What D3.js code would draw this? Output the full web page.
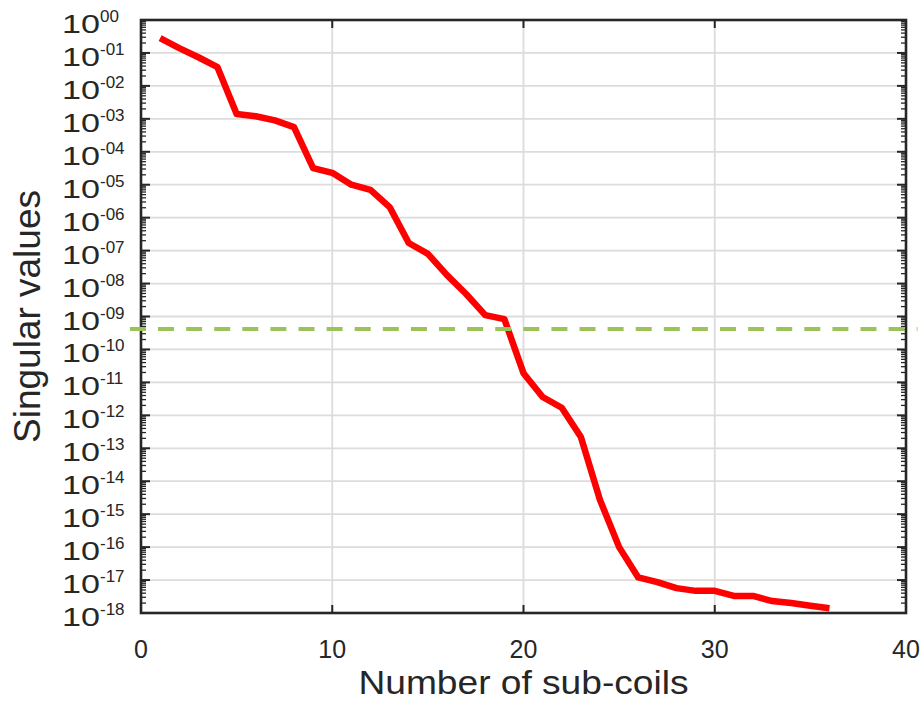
<!DOCTYPE html>
<html>
<head>
<meta charset="utf-8">
<script src="https://cdn.jsdelivr.net/npm/d3@7"></script>
<style>
  html, body { margin: 0; padding: 0; background: #fff; }
  svg { display: block; font-family: "Liberation Sans", Arial, sans-serif; }
</style>
</head>
<body>
<svg id="chart" width="922" height="706"></svg>
<script>
// Singular values of the coil decomposition, one per sub-coil count
const subCoils = [1, 2, 3, 4, 5, 6, 7, 8, 9, 10, 11, 12, 13, 14, 15, 16, 17, 18,
                  19, 20, 21, 22, 23, 24, 25, 26, 27, 28, 29, 30, 31, 32, 33, 34, 35, 36];
const singularValues = [
  2.8e-1, 1.4e-1, 7.4e-2, 3.7e-2, 1.4e-3, 1.2e-3, 9.0e-4, 5.6e-4, 3.2e-5, 2.3e-5,
  1.0e-5, 7.0e-6, 2.1e-6, 1.7e-7, 8.0e-8, 1.8e-8, 4.8e-9, 1.1e-9, 8.3e-10, 1.9e-11,
  3.6e-12, 1.7e-12, 2.2e-13, 2.7e-15, 1.0e-16, 1.2e-17, 8.7e-18, 5.7e-18, 4.7e-18, 4.7e-18,
  3.3e-18, 3.3e-18, 2.3e-18, 2.0e-18, 1.65e-18, 1.4e-18
];

// Truncation threshold (horizontal dashed line) and its x extent
const thresholdValue = 4.2e-10;
const thresholdSpan = [-0.58, 40.6];

// Axis ticks
const xTicks = [0, 10, 20, 30, 40];
const yExponents = [0, -1, -2, -3, -4, -5, -6, -7, -8, -9, -10, -11, -12, -13, -14, -15, -16, -17, -18];

const xLabel = "Number of sub-coils";
const yLabel = "Singular values";

(function draw() {
  const svg = d3.select("#chart");
  const pLeft = 141, pRight = 906, pTop = 20, pBottom = 613;

  const x = d3.scaleLinear().domain([0, 40]).range([pLeft, pRight]);
  const y = d3.scaleLog().domain([1e-18, 1]).range([pBottom, pTop]);

  const axisColor = "#262626";
  const gridColor = "#dcdcdc";

  // Grid lines
  const grid = svg.append("g");
  grid.append("g").selectAll("line")
    .data(xTicks.slice(1, -1))
    .join("line")
    .attr("x1", d => x(d)).attr("x2", d => x(d))
    .attr("y1", pTop).attr("y2", pBottom)
    .attr("stroke", gridColor).attr("stroke-width", 1.8);
  grid.append("g").selectAll("line")
    .data(yExponents.slice(1, -1))
    .join("line")
    .attr("x1", pLeft).attr("x2", pRight)
    .attr("y1", d => y(Math.pow(10, d))).attr("y2", d => y(Math.pow(10, d)))
    .attr("stroke", gridColor).attr("stroke-width", 1.8);

  // Minor and major ticks on left and right edges (pointing inward)
  const minorVals = [];
  for (let e = -18; e < 0; e++) {
    for (let m = 2; m <= 9; m++) minorVals.push(m * Math.pow(10, e));
  }
  const ticks = svg.append("g").attr("stroke", axisColor);
  [[pLeft, 1], [pRight, -1]].forEach(([px, dir]) => {
    ticks.append("g").selectAll("line")
      .data(minorVals)
      .join("line")
      .attr("x1", px).attr("x2", px + dir * 5)
      .attr("y1", d => y(d)).attr("y2", d => y(d))
      .attr("stroke-width", 1.3);
    ticks.append("g").selectAll("line")
      .data(yExponents)
      .join("line")
      .attr("x1", px).attr("x2", px + dir * 9)
      .attr("y1", d => y(Math.pow(10, d))).attr("y2", d => y(Math.pow(10, d)))
      .attr("stroke-width", 2);
  });
  [[pBottom, -1], [pTop, 1]].forEach(([py, dir]) => {
    ticks.append("g").selectAll("line")
      .data(xTicks.slice(1, -1))
      .join("line")
      .attr("x1", d => x(d)).attr("x2", d => x(d))
      .attr("y1", py).attr("y2", py + dir * 8)
      .attr("stroke-width", 2);
  });

  // Data line
  const line = d3.line()
    .x((d, i) => x(subCoils[i]))
    .y(d => y(d));
  svg.append("path")
    .datum(singularValues)
    .attr("d", line)
    .attr("fill", "none")
    .attr("stroke", "#ff0000")
    .attr("stroke-width", 6.5)
    .attr("stroke-linejoin", "round")
    .attr("stroke-linecap", "butt");

  // Frame
  svg.append("rect")
    .attr("x", pLeft).attr("y", pTop)
    .attr("width", pRight - pLeft).attr("height", pBottom - pTop)
    .attr("fill", "none")
    .attr("stroke", axisColor)
    .attr("stroke-width", 2.6);

  // Threshold line (drawn over the frame, extends past it)
  svg.append("line")
    .attr("x1", x(thresholdSpan[0])).attr("x2", x(thresholdSpan[1]))
    .attr("y1", y(thresholdValue)).attr("y2", y(thresholdValue))
    .attr("stroke", "#9cc35a")
    .attr("stroke-width", 4)
    .attr("stroke-dasharray", "16,12.1");

  // Y tick labels: a wide "10" base with a two-digit superscript exponent
  const fmtExp = e => (e < 0 ? "-" : "") + String(Math.abs(e)).padStart(2, "0");
  const yl = svg.append("g").attr("fill", "#262626");
  yExponents.forEach(e => {
    const ty = y(Math.pow(10, e));
    yl.append("text")
      .attr("x", 62)
      .attr("y", ty + 13)
      .attr("font-size", 26)
      .attr("textLength", 38)
      .attr("lengthAdjust", "spacingAndGlyphs")
      .text("10");
    yl.append("text")
      .attr("x", 100)
      .attr("y", ty + 2)
      .attr("font-size", 17)
      .text(fmtExp(e));
  });

  // X tick labels
  svg.append("g").selectAll("text")
    .data(xTicks)
    .join("text")
    .attr("x", d => x(d))
    .attr("y", 658)
    .attr("text-anchor", "middle")
    .attr("font-size", 25)
    .attr("fill", "#262626")
    .text(d => d);

  // Axis titles
  svg.append("text")
    .attr("x", (pLeft + pRight) / 2 - 165)
    .attr("y", 694)
    .attr("font-size", 33)
    .attr("textLength", 330)
    .attr("lengthAdjust", "spacingAndGlyphs")
    .attr("fill", "#262626")
    .text(xLabel);

  svg.append("text")
    .attr("transform", `translate(40, ${(pTop + pBottom) / 2}) rotate(-90)`)
    .attr("text-anchor", "middle")
    .attr("font-size", 37)
    .attr("fill", "#262626")
    .text(yLabel);
})();
</script>
</body>
</html>
